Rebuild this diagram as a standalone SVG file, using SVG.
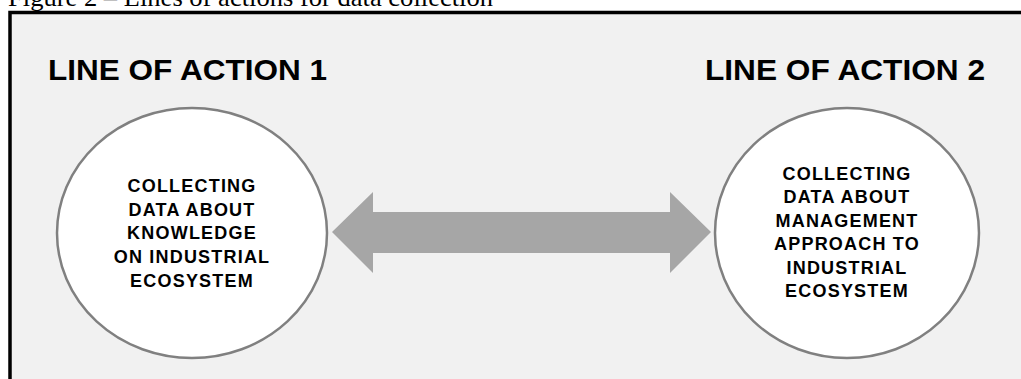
<svg xmlns="http://www.w3.org/2000/svg" width="1021" height="379" viewBox="0 0 1021 379">
  <style>
    .title { font-family: "Liberation Serif", "Times New Roman", serif; font-size: 26px; fill: #000; }
    .head { font-family: "Liberation Sans", Arial, sans-serif; font-weight: bold; font-size: 30px; fill: #000; }
    .body { font-family: "Liberation Sans", Arial, sans-serif; font-weight: bold; font-size: 18px; fill: #000; letter-spacing: 1.2px; text-anchor: middle; }
    .node { fill: #ffffff; stroke: #808080; stroke-width: 2.5; }
    .link { fill: #a6a6a6; }
  </style>

  <rect x="0" y="0" width="1021" height="379" fill="#ffffff"/>
  <text class="title" x="8" y="6" textLength="485" lengthAdjust="spacingAndGlyphs">Figure 2 – Lines of actions for data collection</text>

  <!-- panel frame, running off the right and bottom edges -->
  <rect x="10" y="12.5" width="1030" height="400" fill="#f1f1f1" stroke="#000000" stroke-width="3.5"/>

  <text class="head" x="48" y="80" textLength="279" lengthAdjust="spacingAndGlyphs">LINE OF ACTION 1</text>
  <text class="head" x="705" y="80" textLength="280" lengthAdjust="spacingAndGlyphs">LINE OF ACTION 2</text>

  <g id="connectors">
    <path class="link" d="M332,232 L373,192 L373,212 L670,212 L670,192 L711,232 L670,273 L670,253 L373,253 L373,273 Z"/>
  </g>

  <g id="node-1">
    <ellipse class="node" cx="192" cy="233" rx="135" ry="125"/>
    <text class="body" x="192" y="192">COLLECTING</text>
    <text class="body" x="192" y="216">DATA ABOUT</text>
    <text class="body" x="192" y="239">KNOWLEDGE</text>
    <text class="body" x="192" y="263">ON INDUSTRIAL</text>
    <text class="body" x="192" y="287">ECOSYSTEM</text>
  </g>

  <g id="node-2">
    <ellipse class="node" cx="847" cy="233" rx="132" ry="125"/>
    <text class="body" x="847" y="180">COLLECTING</text>
    <text class="body" x="847" y="203">DATA ABOUT</text>
    <text class="body" x="847" y="227">MANAGEMENT</text>
    <text class="body" x="847" y="250">APPROACH TO</text>
    <text class="body" x="847" y="274">INDUSTRIAL</text>
    <text class="body" x="847" y="297">ECOSYSTEM</text>
  </g>
</svg>
